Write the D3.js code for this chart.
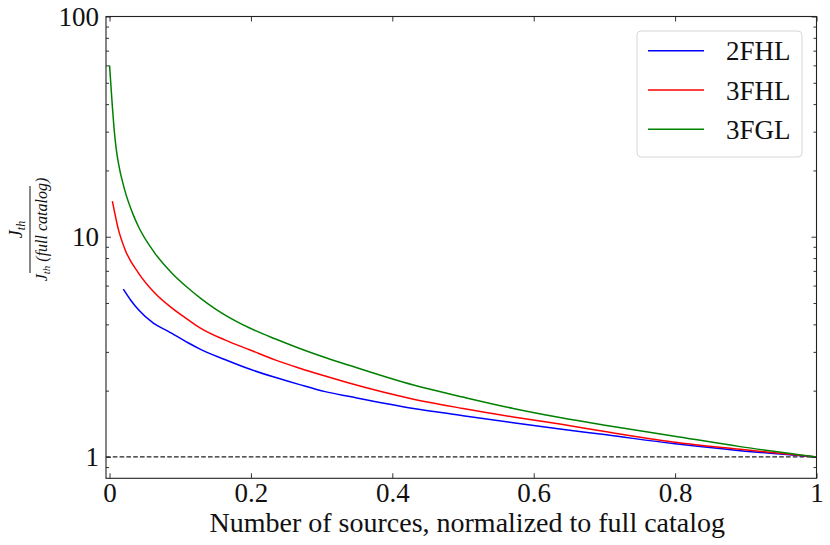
<!DOCTYPE html>
<html>
<head>
<meta charset="utf-8">
<script src="https://cdn.jsdelivr.net/npm/d3@7"></script>
<style>
  body { margin: 0; background: #fff; }
  svg text { font-family: "Liberation Serif", "Times New Roman", serif; fill: #111; }
</style>
</head>
<body>
<div id="chart"></div>
<script>
// catalogs and curve values
var catalogs = ["2FHL", "3FHL", "3FGL"];
var catalogColors = ["blue", "red", "green"];

var x2FHL = [0.0195, 0.030, 0.041, 0.062, 0.083, 0.111, 0.128, 0.163, 0.199, 0.234, 0.269, 0.305, 0.340, 0.430, 0.500, 0.571, 0.637, 0.703, 0.797, 0.892, 1.0];
var y2FHL = [5.78, 5.15, 4.66, 4.05, 3.72, 3.30, 3.09, 2.77, 2.50, 2.30, 2.13, 1.98, 1.88, 1.66, 1.54, 1.43, 1.34, 1.26, 1.15, 1.068, 1.0];

var x3FHL = [0.004, 0.0125, 0.022, 0.041, 0.064, 0.088, 0.111, 0.128, 0.163, 0.199, 0.234, 0.269, 0.305, 0.340, 0.430, 0.500, 0.571, 0.637, 0.703, 0.797, 0.892, 1.0];
var y3FHL = [14.5, 10.8, 8.73, 6.84, 5.55, 4.75, 4.20, 3.86, 3.40, 3.06, 2.76, 2.53, 2.33, 2.16, 1.83, 1.66, 1.52, 1.41, 1.30, 1.17, 1.084, 1.0];

var x3FGL = [0.0, 0.0017, 0.004, 0.0064, 0.0095, 0.0127, 0.021, 0.033, 0.041, 0.064, 0.088, 0.111, 0.128, 0.149, 0.163, 0.199, 0.234, 0.269, 0.305, 0.340, 0.430, 0.500, 0.571, 0.637, 0.703, 0.797, 0.892, 1.0];
var y3FGL = [60, 50, 39, 31, 25.0, 21.5, 16.5, 12.7, 11.1, 8.43, 6.85, 5.85, 5.28, 4.72, 4.42, 3.84, 3.44, 3.11, 2.83, 2.60, 2.12, 1.87, 1.66, 1.51, 1.39, 1.246, 1.114, 1.0];

var xTicks = [0, 0.2, 0.4, 0.6, 0.8, 1];
var xTickLabels = ["0", "0.2", "0.4", "0.6", "0.8", "1"];
var yTicks = [1, 10, 100];
var yTickLabels = ["1", "10", "100"];
var yMinorTicks = [0.9, 2, 3, 4, 5, 6, 7, 8, 9, 20, 30, 40, 50, 60, 70, 80, 90];
var refLevel = 1;

var W = 830, H = 545;
var pLeft = 106, pRight = 816.5, pTop = 16.5, pBottom = 478.3;

var svg = d3.select("#chart").append("svg")
    .attr("width", W)
    .attr("height", H);

var x = d3.scaleLinear().domain([-0.005, 1.0]).range([pLeft, pRight]);
var y = d3.scaleLog().domain([0.8, 100]).range([pBottom, pTop]);

var series = [
    {name: catalogs[0], color: catalogColors[0], pts: d3.zip(x2FHL, y2FHL)},
    {name: catalogs[1], color: catalogColors[1], pts: d3.zip(x3FHL, y3FHL)},
    {name: catalogs[2], color: catalogColors[2], pts: d3.zip(x3FGL, y3FGL)}
];

// reference line at 1
svg.append("line")
    .attr("x1", pLeft).attr("x2", pRight)
    .attr("y1", y(refLevel)).attr("y2", y(refLevel))
    .attr("stroke", "#222")
    .attr("stroke-width", 1.3)
    .attr("stroke-dasharray", "4.6,2.2");

var line = d3.line()
    .x(function(d) { return x(d[0]); })
    .y(function(d) { return y(d[1]); })
    .curve(d3.curveMonotoneX);

svg.selectAll(".curve")
    .data(series)
    .enter().append("path")
    .attr("class", "curve")
    .attr("d", function(d) { return line(d.pts); })
    .attr("fill", "none")
    .attr("stroke", function(d) { return d.color; })
    .attr("stroke-width", 1.5);

// axes, ticks pointing inward
var tickFont = 27;
function styleAxis(g) {
    g.select(".domain").remove();
    g.selectAll(".tick line").attr("stroke", "#333").attr("stroke-width", 1);
    g.selectAll("text").style("font-size", tickFont + "px").attr("fill", "#111");
}

svg.append("g")
    .attr("transform", "translate(0," + pBottom + ")")
    .call(d3.axisBottom(x).tickValues(xTicks).tickFormat(function(d, i) { return xTickLabels[i]; })
        .tickSize(-5).tickPadding(5))
    .call(styleAxis);
svg.append("g")
    .attr("transform", "translate(0," + pTop + ")")
    .call(d3.axisTop(x).tickValues(xTicks).tickFormat("").tickSize(-5))
    .call(styleAxis);

svg.append("g")
    .attr("transform", "translate(" + pLeft + ",0)")
    .call(d3.axisLeft(y).tickValues(yTicks).tickFormat(function(d, i) { return yTickLabels[i]; })
        .tickSize(-5).tickPadding(7))
    .call(styleAxis);
svg.append("g")
    .attr("transform", "translate(" + pLeft + ",0)")
    .call(d3.axisLeft(y).tickValues(yMinorTicks).tickFormat("").tickSize(-3))
    .call(styleAxis);
svg.append("g")
    .attr("transform", "translate(" + pRight + ",0)")
    .call(d3.axisRight(y).tickValues(yTicks).tickFormat("").tickSize(-5))
    .call(styleAxis);
svg.append("g")
    .attr("transform", "translate(" + pRight + ",0)")
    .call(d3.axisRight(y).tickValues(yMinorTicks).tickFormat("").tickSize(-3))
    .call(styleAxis);

// frame
svg.append("rect")
    .attr("x", pLeft).attr("y", pTop)
    .attr("width", pRight - pLeft).attr("height", pBottom - pTop)
    .attr("fill", "none")
    .attr("stroke", "#222")
    .attr("stroke-width", 1.1);

// x label
svg.append("text")
    .attr("x", (pLeft + pRight) / 2 + 6)
    .attr("y", 532)
    .attr("text-anchor", "middle")
    .style("font-size", "28px")
    .text("Number of sources, normalized to full catalog");

// y label: fraction J_th / J_th(full catalog)
var yl = svg.append("g")
    .attr("transform", "translate(30,229.5) rotate(-90)")
    .style("font-style", "italic");
yl.append("line")
    .attr("x1", -43.5).attr("x2", 43.5)
    .attr("y1", 0).attr("y2", 0)
    .attr("stroke", "#111").attr("stroke-width", 1);
var num = yl.append("text")
    .attr("x", 0).attr("y", -8)
    .attr("text-anchor", "middle")
    .style("font-size", "18px");
num.append("tspan").text("J");
num.append("tspan").attr("dy", 3).style("font-size", "12px").text("th");
var den = yl.append("text")
    .attr("x", 0).attr("y", 17)
    .attr("text-anchor", "middle")
    .style("font-size", "16px");
den.append("tspan").text("J");
den.append("tspan").attr("dy", 3).style("font-size", "11px").text("th");
den.append("tspan").attr("dy", -3).text(" (full catalog)");

// legend
var leg = svg.append("g");
leg.append("rect")
    .attr("x", 637).attr("y", 31)
    .attr("width", 165).attr("height", 126)
    .attr("rx", 4)
    .attr("fill", "#fff")
    .attr("stroke", "#d6d6d6")
    .attr("stroke-width", 1);
series.forEach(function(s, i) {
    var ly = 50.7 + i * 39.3;
    leg.append("line")
        .attr("x1", 648).attr("x2", 704)
        .attr("y1", ly).attr("y2", ly)
        .attr("stroke", s.color)
        .attr("stroke-width", 1.5);
    leg.append("text")
        .attr("x", 726).attr("y", ly + 9.5)
        .style("font-size", "27px")
        .text(s.name);
});
</script>
</body>
</html>
